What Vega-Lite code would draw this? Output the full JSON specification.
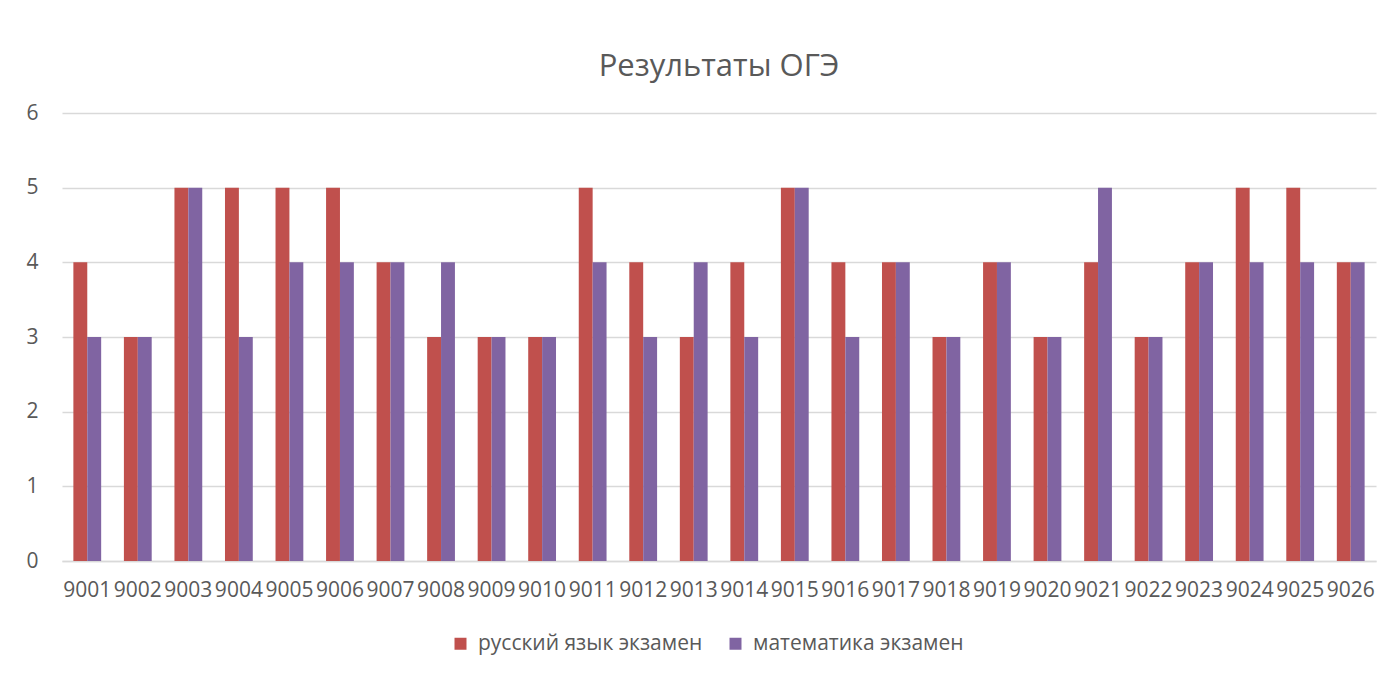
{
  "$schema": "https://vega.github.io/schema/vega-lite/v6.json",
  "width": 1314,
  "height": 448,
  "padding": {"left": 12, "top": 51, "right": 20, "bottom": 10},
  "background": "white",
  "title": {"text": "Результаты ОГЭ", "fontSize": 31, "font": "Open Sans", "fontWeight": "normal", "color": "#595959", "anchor": "middle", "offset": 19},
  "config": {"view": {"stroke": null}, "font": "Open Sans"},
  "data": {"values": [
    {"id": "9001", "subject": "русский язык экзамен", "score": 4}, {"id": "9001", "subject": "математика экзамен", "score": 3},
    {"id": "9002", "subject": "русский язык экзамен", "score": 3}, {"id": "9002", "subject": "математика экзамен", "score": 3},
    {"id": "9003", "subject": "русский язык экзамен", "score": 5}, {"id": "9003", "subject": "математика экзамен", "score": 5},
    {"id": "9004", "subject": "русский язык экзамен", "score": 5}, {"id": "9004", "subject": "математика экзамен", "score": 3},
    {"id": "9005", "subject": "русский язык экзамен", "score": 5}, {"id": "9005", "subject": "математика экзамен", "score": 4},
    {"id": "9006", "subject": "русский язык экзамен", "score": 5}, {"id": "9006", "subject": "математика экзамен", "score": 4},
    {"id": "9007", "subject": "русский язык экзамен", "score": 4}, {"id": "9007", "subject": "математика экзамен", "score": 4},
    {"id": "9008", "subject": "русский язык экзамен", "score": 3}, {"id": "9008", "subject": "математика экзамен", "score": 4},
    {"id": "9009", "subject": "русский язык экзамен", "score": 3}, {"id": "9009", "subject": "математика экзамен", "score": 3},
    {"id": "9010", "subject": "русский язык экзамен", "score": 3}, {"id": "9010", "subject": "математика экзамен", "score": 3},
    {"id": "9011", "subject": "русский язык экзамен", "score": 5}, {"id": "9011", "subject": "математика экзамен", "score": 4},
    {"id": "9012", "subject": "русский язык экзамен", "score": 4}, {"id": "9012", "subject": "математика экзамен", "score": 3},
    {"id": "9013", "subject": "русский язык экзамен", "score": 3}, {"id": "9013", "subject": "математика экзамен", "score": 4},
    {"id": "9014", "subject": "русский язык экзамен", "score": 4}, {"id": "9014", "subject": "математика экзамен", "score": 3},
    {"id": "9015", "subject": "русский язык экзамен", "score": 5}, {"id": "9015", "subject": "математика экзамен", "score": 5},
    {"id": "9016", "subject": "русский язык экзамен", "score": 4}, {"id": "9016", "subject": "математика экзамен", "score": 3},
    {"id": "9017", "subject": "русский язык экзамен", "score": 4}, {"id": "9017", "subject": "математика экзамен", "score": 4},
    {"id": "9018", "subject": "русский язык экзамен", "score": 3}, {"id": "9018", "subject": "математика экзамен", "score": 3},
    {"id": "9019", "subject": "русский язык экзамен", "score": 4}, {"id": "9019", "subject": "математика экзамен", "score": 4},
    {"id": "9020", "subject": "русский язык экзамен", "score": 3}, {"id": "9020", "subject": "математика экзамен", "score": 3},
    {"id": "9021", "subject": "русский язык экзамен", "score": 4}, {"id": "9021", "subject": "математика экзамен", "score": 5},
    {"id": "9022", "subject": "русский язык экзамен", "score": 3}, {"id": "9022", "subject": "математика экзамен", "score": 3},
    {"id": "9023", "subject": "русский язык экзамен", "score": 4}, {"id": "9023", "subject": "математика экзамен", "score": 4},
    {"id": "9024", "subject": "русский язык экзамен", "score": 5}, {"id": "9024", "subject": "математика экзамен", "score": 4},
    {"id": "9025", "subject": "русский язык экзамен", "score": 5}, {"id": "9025", "subject": "математика экзамен", "score": 4},
    {"id": "9026", "subject": "русский язык экзамен", "score": 4}, {"id": "9026", "subject": "математика экзамен", "score": 4}
  ]},
  "mark": {"type": "bar"},
  "encoding": {
    "x": {"field": "id", "type": "nominal", "sort": null,
      "scale": {"paddingInner": 0.45, "paddingOuter": 0.225},
      "axis": {"title": null, "labelAngle": 0, "ticks": false, "domainColor": "#D9D9D9", "domainWidth": 1.5, "labelColor": "#595959", "labelFontSize": 21, "labelPadding": 18, "labelFont": "Open Sans", "labelOverlap": false}},
    "xOffset": {"field": "subject", "type": "nominal", "sort": ["русский язык экзамен", "математика экзамен"]},
    "y": {"field": "score", "type": "quantitative",
      "scale": {"domain": [0, 6]},
      "axis": {"title": null, "values": [0, 1, 2, 3, 4, 5, 6], "domain": false, "ticks": false, "gridColor": "#D9D9D9", "gridWidth": 1.5, "labelColor": "#595959", "labelFontSize": 21, "labelPadding": 24, "minExtent": 50, "maxExtent": 50, "labelFont": "Open Sans", "labelOverlap": false}},
    "color": {"field": "subject", "type": "nominal",
      "sort": ["русский язык экзамен", "математика экзамен"],
      "scale": {"domain": ["русский язык экзамен", "математика экзамен"], "range": ["#C0504D", "#8064A2"]},
      "legend": {"title": null, "orient": "none", "legendX": 388, "legendY": 520, "direction": "horizontal", "symbolType": "square", "symbolSize": 144, "symbolStrokeWidth": 0, "labelFontSize": 21, "labelColor": "#595959", "columnPadding": 22, "labelOffset": 7, "labelLimit": 500, "labelFont": "Open Sans"}}
  }
}
